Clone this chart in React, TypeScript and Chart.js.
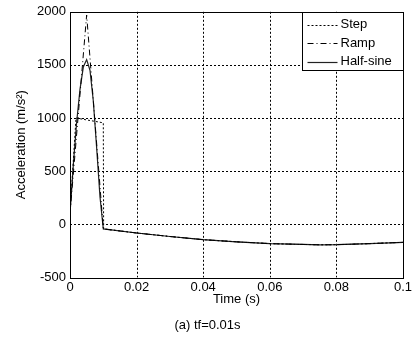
import React, { useEffect, useRef } from "react";
import { Chart, registerables } from "chart.js";

Chart.register(...registerables);

const stepT = [0, 0.0018, 0.01, 0.0101];
const stepA = [100, 1000, 955, -44];
const rampT = [0, 0.005, 0.01];
const rampA = [100, 1970, -44];
const sineT = [0, 0.001, 0.002, 0.003, 0.004, 0.005, 0.006, 0.007, 0.008, 0.009, 0.01];
const sineA = [100, 560, 960, 1270, 1480, 1550, 1450, 1160, 720, 260, -44];
const tailT = [0.02, 0.03, 0.04, 0.05, 0.06, 0.07, 0.075, 0.08, 0.09, 0.1];
const tailA = [-82, -115, -145, -165, -182, -190, -193, -192, -182, -170];
const xTicks = [0, 0.02, 0.04, 0.06, 0.08, 0.1];
const xTickLabels = ["0", "0.02", "0.04", "0.06", "0.08", "0.1"];
const yTicks = [-500, 0, 500, 1000, 1500, 2000];
const seriesNames = ["Step", "Ramp", "Half-sine"];

const FONT = "'Liberation Sans', Arial, sans-serif";

function pts(t: number[], a: number[]) {
  return t.map((x, i) => ({ x, y: a[i] }));
}

export default function App() {
  const ref = useRef<HTMLCanvasElement | null>(null);
  useEffect(() => {
    document.body.style.margin = "0";
    const canvas = ref.current!;
    const tail = pts(tailT, tailA);
    const gridPlugin = {
      id: "matlabGrid",
      beforeDatasetsDraw(chart: any) {
        const ctx = chart.ctx;
        const ca = chart.chartArea;
        const xs = chart.scales.x;
        const ys = chart.scales.y;
        ctx.save();
        ctx.strokeStyle = "#000";
        ctx.lineWidth = 1;
        ctx.setLineDash([2, 2]);
        ctx.beginPath();
        xTicks.slice(1, -1).forEach((v) => {
          const px = Math.round(xs.getPixelForValue(v)) + 0.5;
          ctx.moveTo(px, ca.top);
          ctx.lineTo(px, ca.bottom);
        });
        yTicks.slice(1, -1).forEach((v) => {
          const py = Math.round(ys.getPixelForValue(v)) + 0.5;
          ctx.moveTo(ca.left, py);
          ctx.lineTo(ca.right, py);
        });
        ctx.stroke();
        ctx.restore();
      },
      afterDatasetsDraw(chart: any) {
        const ctx = chart.ctx;
        const ca = chart.chartArea;
        ctx.save();
        ctx.strokeStyle = "#000";
        ctx.lineWidth = 1;
        ctx.setLineDash([]);
        ctx.strokeRect(
          Math.round(ca.left) + 0.5,
          Math.round(ca.top) + 0.5,
          Math.round(ca.right - ca.left),
          Math.round(ca.bottom - ca.top)
        );
        ctx.restore();
      },
    };
    const legendPlugin = {
      id: "boxLegend",
      afterDraw(chart: any) {
        const ctx = chart.ctx;
        const ca = chart.chartArea;
        const w = 101, h = 58;
        const x0 = Math.round(ca.right) - w + 0.5;
        const y0 = Math.round(ca.top) + 0.5;
        ctx.save();
        ctx.fillStyle = "#fff";
        ctx.fillRect(x0, y0, w, h);
        ctx.strokeStyle = "#000";
        ctx.lineWidth = 1;
        ctx.setLineDash([]);
        ctx.strokeRect(x0, y0, w, h);
        ctx.font = "13px " + FONT;
        ctx.textBaseline = "middle";
        ctx.fillStyle = "#000";
        chart.data.datasets.forEach((ds: any, i: number) => {
          const yy = y0 + 12 + i * 18.5;
          ctx.beginPath();
          ctx.setLineDash(ds.borderDash || []);
          ctx.strokeStyle = ds.borderColor;
          ctx.lineWidth = ds.borderWidth;
          ctx.moveTo(x0 + 5, Math.round(yy) + 0.5);
          ctx.lineTo(x0 + 35, Math.round(yy) + 0.5);
          ctx.stroke();
          ctx.setLineDash([]);
          ctx.fillText(seriesNames[i], x0 + 38, yy);
        });
        ctx.restore();
      },
    };
    const chart = new Chart(canvas, {
      type: "line",
      data: {
        datasets: [
          {
            label: seriesNames[0],
            data: [...pts(stepT, stepA), ...tail],
            borderColor: "#000",
            borderWidth: 1,
            borderDash: [2, 2],
            pointRadius: 0,
            tension: 0,
          },
          {
            label: seriesNames[1],
            data: [...pts(rampT, rampA), ...tail],
            borderColor: "#000",
            borderWidth: 1,
            borderDash: [6, 3, 1, 3],
            pointRadius: 0,
            tension: 0,
          },
          {
            label: seriesNames[2],
            data: [...pts(sineT, sineA), ...tail],
            borderColor: "#222",
            borderWidth: 1.2,
            pointRadius: 0,
            tension: 0,
          },
        ],
      },
      plugins: [gridPlugin, legendPlugin],
      options: {
        animation: false,
        responsive: false,
        layout: { padding: { top: 11, right: 13, left: 12, bottom: 0 } },
        plugins: {
          legend: { display: false },
          tooltip: { enabled: false },
          title: {
            display: true,
            position: "bottom",
            text: "(a) tf=0.01s",
            color: "#000",
            font: { family: FONT, size: 13, weight: "normal" },
            padding: { top: 10, bottom: 7 },
          },
        },
        scales: {
          x: {
            type: "linear",
            min: 0,
            max: 0.1,
            afterBuildTicks(axis: any) {
              axis.ticks = xTicks.map((v) => ({ value: v }));
            },
            afterFit(axis: any) {
              axis.height = 30;
            },
            ticks: {
              color: "#000",
              font: { family: FONT, size: 13 },
              padding: 2,
              maxRotation: 0,
              callback: (v: any) => {
                const i = xTicks.findIndex((t) => Math.abs(t - v) < 1e-9);
                return i >= 0 ? xTickLabels[i] : "";
              },
            },
            grid: { display: false, drawTicks: false },
            border: { display: false },
            title: {
              display: true,
              text: "Time (s)",
              color: "#000",
              font: { family: FONT, size: 13 },
              padding: { top: 0, bottom: 0 },
            },
          },
          y: {
            type: "linear",
            min: -500,
            max: 2000,
            afterBuildTicks(axis: any) {
              axis.ticks = yTicks.map((v) => ({ value: v }));
            },
            afterFit(axis: any) {
              axis.width = 58;
            },
            ticks: {
              color: "#000",
              font: { family: FONT, size: 13 },
              padding: 4,
              callback: (v: any) => String(v),
            },
            grid: { display: false, drawTicks: false },
            border: { display: false },
            title: {
              display: true,
              text: "Acceleration (m/s²)",
              color: "#000",
              font: { family: FONT, size: 13 },
              padding: { top: 2, bottom: 0 },
            },
          },
        },
      },
    } as any);
    return () => chart.destroy();
  }, []);
  return (
    <div style={{ position: "absolute", left: 0, top: 0 }}>
      <canvas ref={ref} width={416} height={340} style={{ display: "block" }} />
    </div>
  );
}
